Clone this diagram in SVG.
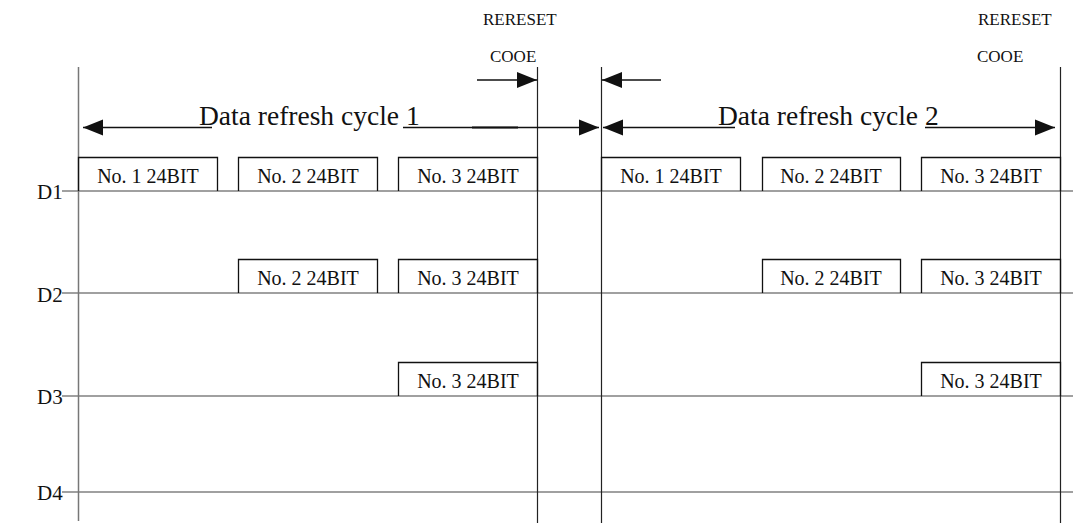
<svg xmlns="http://www.w3.org/2000/svg" width="1073" height="523" viewBox="0 0 1073 523">
<style>
.t{font-family:"Liberation Serif","Times New Roman",serif;fill:#111}
.bl{font-size:20px;text-anchor:middle}
.big{font-size:27.5px}
.rs{font-size:17px}
.dl{font-size:21px}
.box{fill:none;stroke:#111;stroke-width:1.3}
.hl{stroke:#808080;stroke-width:1.5}
.vl{stroke:#222;stroke-width:1.2}
.vg{stroke:#777;stroke-width:1.5}
.ar{stroke:#111;stroke-width:1.4;fill:none}
</style>
<defs>
<marker id="ah" markerUnits="userSpaceOnUse" markerWidth="21" markerHeight="18" refX="20" refY="9" orient="auto-start-reverse">
<path d="M0,1 L20,9 L0,17 z" fill="#111"/>
</marker>
</defs>
<rect width="1073" height="523" fill="#fff"/>
<g id="axes">
<line class="hl" x1="62" y1="191" x2="1073" y2="191"/>
<line class="hl" x1="62" y1="293" x2="1073" y2="293"/>
<line class="hl" x1="62" y1="396" x2="1073" y2="396"/>
<line class="hl" x1="62" y1="492" x2="1073" y2="492"/>
<line class="vg" x1="78.5" y1="67" x2="78.5" y2="521"/>
<line class="vl" x1="537.5" y1="67" x2="537.5" y2="523"/>
<line class="vl" x1="601.5" y1="67" x2="601.5" y2="523"/>
<line class="vl" x1="1060.5" y1="67" x2="1060.5" y2="523"/>
<text class="t dl" x="37" y="199">D1</text>
<text class="t dl" x="37" y="302">D2</text>
<text class="t dl" x="37" y="404">D3</text>
<text class="t dl" x="37" y="500">D4</text>
</g>
<g id="c1-d1-b1"><path class="box" d="M78.5,191 V157.5 H217.5 V191"/><text class="t bl" x="148" y="183">No. 1 24BIT</text></g>
<g id="c1-d1-b2"><path class="box" d="M238.5,191 V157.5 H377.5 V191"/><text class="t bl" x="308" y="183">No. 2 24BIT</text></g>
<g id="c1-d1-b3"><path class="box" d="M398.5,191 V157.5 H537.5 V191"/><text class="t bl" x="468" y="183">No. 3 24BIT</text></g>
<g id="c2-d1-b1"><path class="box" d="M601.5,191 V157.5 H740.5 V191"/><text class="t bl" x="671" y="183">No. 1 24BIT</text></g>
<g id="c2-d1-b2"><path class="box" d="M762.5,191 V157.5 H900.5 V191"/><text class="t bl" x="831" y="183">No. 2 24BIT</text></g>
<g id="c2-d1-b3"><path class="box" d="M921.5,191 V157.5 H1060.5 V191"/><text class="t bl" x="991" y="183">No. 3 24BIT</text></g>
<g id="c1-d2-b2"><path class="box" d="M238.5,293 V259.5 H377.5 V293"/><text class="t bl" x="308" y="285">No. 2 24BIT</text></g>
<g id="c1-d2-b3"><path class="box" d="M398.5,293 V259.5 H537.5 V293"/><text class="t bl" x="468" y="285">No. 3 24BIT</text></g>
<g id="c2-d2-b2"><path class="box" d="M762.5,293 V259.5 H900.5 V293"/><text class="t bl" x="831" y="285">No. 2 24BIT</text></g>
<g id="c2-d2-b3"><path class="box" d="M921.5,293 V259.5 H1060.5 V293"/><text class="t bl" x="991" y="285">No. 3 24BIT</text></g>
<g id="c1-d3-b3"><path class="box" d="M398.5,396 V362.5 H537.5 V396"/><text class="t bl" x="468" y="388">No. 3 24BIT</text></g>
<g id="c2-d3-b3"><path class="box" d="M921.5,396 V362.5 H1060.5 V396"/><text class="t bl" x="991" y="388">No. 3 24BIT</text></g>
<g id="reset1"><text class="t rs" x="483" y="25">RERESET</text><text class="t rs" x="490" y="62">COOE</text></g>
<g id="reset2"><text class="t rs" x="978" y="25">RERESET</text><text class="t rs" x="977" y="62">COOE</text></g>
<g id="cycle1-label"><text class="t big" x="199" y="125">Data refresh cycle 1</text></g>
<g id="cycle2-label"><text class="t big" x="718" y="125">Data refresh cycle 2</text></g>
<g id="connectors">
<line class="ar" x1="477" y1="80" x2="537" y2="80" marker-end="url(#ah)"/>
<line class="ar" x1="661" y1="80" x2="602" y2="80" marker-end="url(#ah)"/>
<line class="ar" x1="212" y1="127.5" x2="83" y2="127.5" marker-end="url(#ah)"/>
<line class="ar" x1="403" y1="127.5" x2="599" y2="127.5" marker-end="url(#ah)"/>
<line stroke="#111" stroke-width="2.2" x1="472" y1="127.5" x2="518" y2="127.5"/>
<line class="ar" x1="735" y1="127.5" x2="603" y2="127.5" marker-end="url(#ah)"/>
<line class="ar" x1="925" y1="127.5" x2="1055" y2="127.5" marker-end="url(#ah)"/>
</g>
</svg>
